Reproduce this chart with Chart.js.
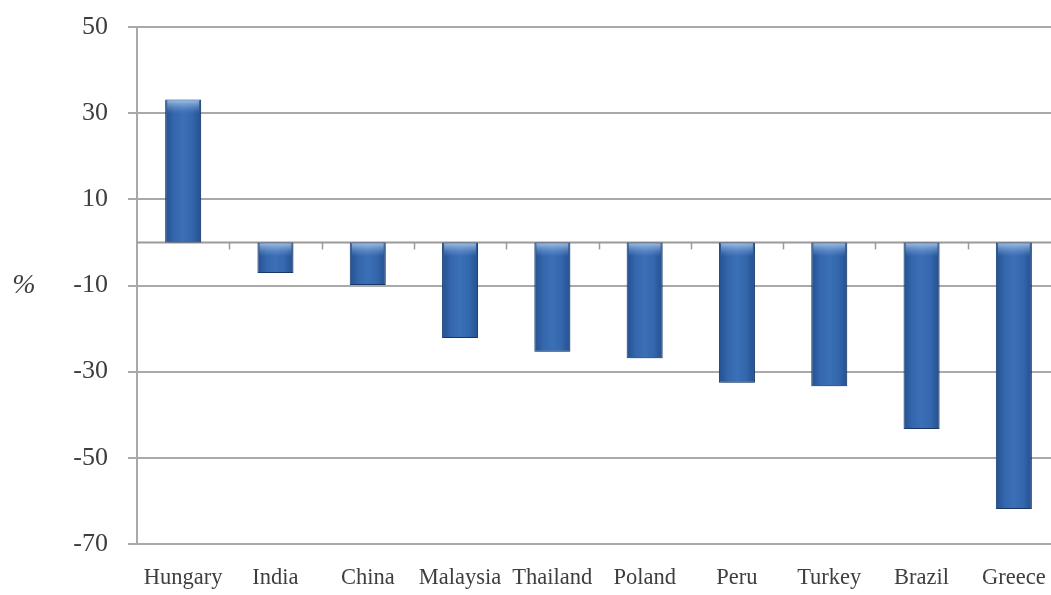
<!DOCTYPE html>
<html>
<head>
<meta charset="utf-8">
<script src="https://cdn.jsdelivr.net/npm/chart.js@4.4.1/dist/chart.umd.min.js"></script>
<style>
  html, body { margin: 0; padding: 0; background: #ffffff; overflow: hidden; }
  #wrap { width: 1060px; height: 595px; position: relative; }
</style>
</head>
<body>
<div id="wrap"><canvas id="c" width="1060" height="595"></canvas></div>
<script>
const categories = ['Hungary', 'India', 'China', 'Malaysia', 'Thailand', 'Poland', 'Peru', 'Turkey', 'Brazil', 'Greece'];
const changePct = [33.2, -7.1, -9.9, -22.2, -25.4, -26.9, -32.6, -33.4, -43.3, -61.9];
const yTickValues = [50, 30, 10, -10, -30, -50, -70];
const yUnitLabel = '%';

const textColor = '#3e3e3e';
const gridColor = '#a9a9a9';
const serif = "'Liberation Serif', 'DejaVu Serif', serif";

function barFill(c) {
  const chart = c.chart;
  const meta = chart.getDatasetMeta(0);
  const el = meta && meta.data ? meta.data[c.dataIndex] : null;
  if (!el || !isFinite(el.x) || !isFinite(el.width)) return '#3465aa';
  const x0 = el.x - el.width / 2, x1 = el.x + el.width / 2;
  const g = chart.ctx.createLinearGradient(x0, 0, x1, 0);
  g.addColorStop(0, '#24508f');
  g.addColorStop(0.25, '#3467ad');
  g.addColorStop(0.5, '#3b70b6');
  g.addColorStop(0.75, '#3467ad');
  g.addColorStop(1, '#24508f');
  return g;
}

const decor = {
  id: 'decor',
  beforeDatasetsDraw(chart) {
    const { ctx, chartArea, scales } = chart;
    const y0 = scales.y.getPixelForValue(0);
    ctx.save();
    ctx.strokeStyle = '#9a9a9a';
    ctx.lineWidth = 2;
    ctx.beginPath();
    ctx.moveTo(chartArea.left, y0);
    ctx.lineTo(chartArea.right, y0);
    ctx.stroke();
    const n = categories.length;
    for (let i = 1; i < n; i++) {
      const xa = scales.x.getPixelForValue(i - 1);
      const xb = scales.x.getPixelForValue(i);
      const xm = Math.round((xa + xb) / 2) + 0.5;
      ctx.lineWidth = 1.5;
      ctx.beginPath();
      ctx.moveTo(xm, y0);
      ctx.lineTo(xm, y0 + 7);
      ctx.stroke();
    }
    ctx.restore();
    ctx.save();
    ctx.shadowColor = 'rgba(0,0,0,0.28)';
    ctx.shadowBlur = 4;
    ctx.shadowOffsetX = 1;
    ctx.shadowOffsetY = 2;
  },
  afterDatasetsDraw(chart) {
    chart.ctx.restore();
    const { ctx, scales } = chart;
    const meta = chart.getDatasetMeta(0);
    const y0 = scales.y.getPixelForValue(0);
    ctx.save();
    meta.data.forEach((el, i) => {
      const v = changePct[i];
      const w = el.width;
      const x0 = el.x - w / 2 + 2;
      const top = v >= 0 ? el.y : y0;
      const g = ctx.createLinearGradient(0, top + 1, 0, top + 14);
      g.addColorStop(0, 'rgba(190,215,245,0.75)');
      g.addColorStop(1, 'rgba(120,160,215,0)');
      ctx.fillStyle = g;
      ctx.fillRect(x0, top + 1, w - 4, 13);
    });
    ctx.restore();
    ctx.save();
    ctx.fillStyle = textColor;
    ctx.font = "italic 28px " + serif;
    ctx.textAlign = 'center';
    ctx.textBaseline = 'middle';
    ctx.fillText(yUnitLabel, 24, 286);
    ctx.restore();
  }
};

new Chart(document.getElementById('c'), {
  type: 'bar',
  data: {
    labels: categories,
    datasets: [{
      data: changePct,
      backgroundColor: barFill,
      borderColor: '#1d4480',
      borderWidth: 1,
      borderSkipped: false,
      barPercentage: 0.78,
      categoryPercentage: 0.5
    }]
  },
  options: {
    responsive: false,
    animation: false,
    devicePixelRatio: 1,
    layout: { padding: { top: 27, right: 0, bottom: 0, left: 0 } },
    plugins: { legend: { display: false }, tooltip: { enabled: false } },
    scales: {
      x: {
        grid: { display: false, drawTicks: false },
        border: { display: false },
        ticks: {
          color: textColor,
          font: { family: serif, size: 22.5 },
          padding: 21,
          maxRotation: 0,
          autoSkip: false
        },
        afterFit(s) { s.height = 51; s.paddingLeft = 0; s.paddingRight = 0; }
      },
      y: {
        min: -70,
        max: 50,
        afterBuildTicks(s) { s.ticks = yTickValues.map(v => ({ value: v })); },
        ticks: {
          color: textColor,
          font: { family: serif, size: 26, lineHeight: 1 },
          padding: 20
        },
        grid: { color: gridColor, lineWidth: 2, tickLength: 9 },
        border: { display: true, color: gridColor, width: 2 },
        afterFit(s) { s.width = 137; s.paddingTop = 0; s.paddingBottom = 0; }
      }
    }
  },
  plugins: [decor]
});
const ch = Chart.getChart('c');
ch.update('none');
</script>
</body>
</html>
